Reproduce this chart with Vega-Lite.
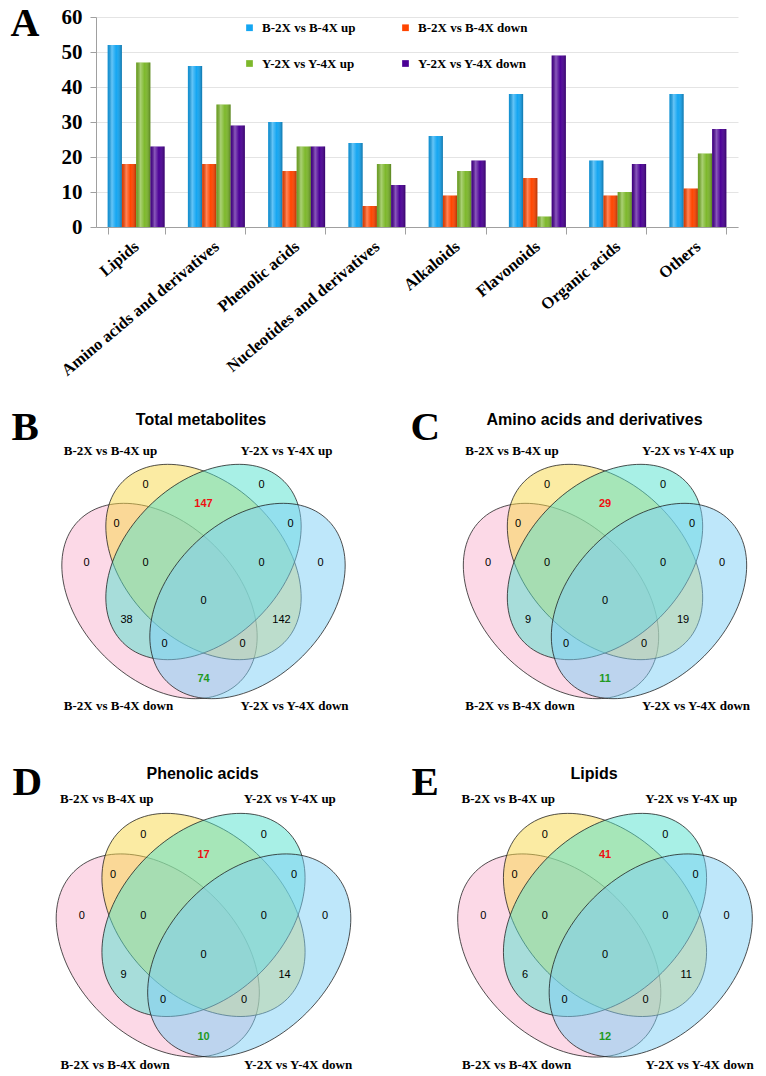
{
  "$schema": "https://vega.github.io/schema/vega-lite/v6.json",
  "background": "white",
  "padding": {"left": 10, "top": 3, "right": 5, "bottom": 0},
  "autosize": {"type": "pad"},
  "bounds": "flush",
  "spacing": 279.25,
  "config": {"view": {"stroke": null}},
  "datasets": {
    "bars": [
      {"category": "Lipids", "series": "B-2X vs B-4X up", "value": 52},
      {"category": "Lipids", "series": "B-2X vs B-4X down", "value": 18},
      {"category": "Lipids", "series": "Y-2X vs Y-4X up", "value": 47},
      {"category": "Lipids", "series": "Y-2X vs Y-4X down", "value": 23},
      {"category": "Amino acids and derivatives", "series": "B-2X vs B-4X up", "value": 46},
      {"category": "Amino acids and derivatives", "series": "B-2X vs B-4X down", "value": 18},
      {"category": "Amino acids and derivatives", "series": "Y-2X vs Y-4X up", "value": 35},
      {"category": "Amino acids and derivatives", "series": "Y-2X vs Y-4X down", "value": 29},
      {"category": "Phenolic acids", "series": "B-2X vs B-4X up", "value": 30},
      {"category": "Phenolic acids", "series": "B-2X vs B-4X down", "value": 16},
      {"category": "Phenolic acids", "series": "Y-2X vs Y-4X up", "value": 23},
      {"category": "Phenolic acids", "series": "Y-2X vs Y-4X down", "value": 23},
      {"category": "Nucleotides and derivatives", "series": "B-2X vs B-4X up", "value": 24},
      {"category": "Nucleotides and derivatives", "series": "B-2X vs B-4X down", "value": 6},
      {"category": "Nucleotides and derivatives", "series": "Y-2X vs Y-4X up", "value": 18},
      {"category": "Nucleotides and derivatives", "series": "Y-2X vs Y-4X down", "value": 12},
      {"category": "Alkaloids", "series": "B-2X vs B-4X up", "value": 26},
      {"category": "Alkaloids", "series": "B-2X vs B-4X down", "value": 9},
      {"category": "Alkaloids", "series": "Y-2X vs Y-4X up", "value": 16},
      {"category": "Alkaloids", "series": "Y-2X vs Y-4X down", "value": 19},
      {"category": "Flavonoids", "series": "B-2X vs B-4X up", "value": 38},
      {"category": "Flavonoids", "series": "B-2X vs B-4X down", "value": 14},
      {"category": "Flavonoids", "series": "Y-2X vs Y-4X up", "value": 3},
      {"category": "Flavonoids", "series": "Y-2X vs Y-4X down", "value": 49},
      {"category": "Organic acids", "series": "B-2X vs B-4X up", "value": 19},
      {"category": "Organic acids", "series": "B-2X vs B-4X down", "value": 9},
      {"category": "Organic acids", "series": "Y-2X vs Y-4X up", "value": 10},
      {"category": "Organic acids", "series": "Y-2X vs Y-4X down", "value": 18},
      {"category": "Others", "series": "B-2X vs B-4X up", "value": 38},
      {"category": "Others", "series": "B-2X vs B-4X down", "value": 11},
      {"category": "Others", "series": "Y-2X vs Y-4X up", "value": 21},
      {"category": "Others", "series": "Y-2X vs Y-4X down", "value": 28}
    ],
    "ellipses": [
      {"set": "B-2X vs B-4X down", "vx": -0.44, "vy": 0},
      {"set": "B-2X vs B-4X up", "vx": 0, "vy": 0.39},
      {"set": "Y-2X vs Y-4X up", "vx": 0, "vy": 0.39},
      {"set": "Y-2X vs Y-4X down", "vx": 0.44, "vy": 0}
    ],
    "setlabels": [
      {"label": "B-2X vs B-4X up", "vx": -0.93, "vy": 1.5},
      {"label": "Y-2X vs Y-4X up", "vx": 0.83, "vy": 1.5},
      {"label": "B-2X vs B-4X down", "vx": -0.85, "vy": -1.05},
      {"label": "Y-2X vs Y-4X down", "vx": 0.91, "vy": -1.05}
    ],
    "regions": [
      {"region": "BU", "vx": -0.58, "vy": 1.16},
      {"region": "YU", "vx": 0.58, "vy": 1.16},
      {"region": "BU_YU", "vx": 0, "vy": 0.97},
      {"region": "BU_BD", "vx": -0.87, "vy": 0.77},
      {"region": "YU_YD", "vx": 0.87, "vy": 0.77},
      {"region": "BD", "vx": -1.17, "vy": 0.38},
      {"region": "BU_YU_BD", "vx": -0.58, "vy": 0.38},
      {"region": "BU_YU_YD", "vx": 0.58, "vy": 0.38},
      {"region": "YD", "vx": 1.17, "vy": 0.38},
      {"region": "BU_YU_BD_YD", "vx": 0, "vy": 0},
      {"region": "YU_BD", "vx": -0.77, "vy": -0.19},
      {"region": "BU_YD", "vx": 0.78, "vy": -0.19},
      {"region": "YU_BD_YD", "vx": -0.39, "vy": -0.43},
      {"region": "BU_BD_YD", "vx": 0.39, "vy": -0.43},
      {"region": "BD_YD", "vx": 0, "vy": -0.78}
    ],
    "counts": [
      {"panel": "Total metabolites", "region": "BU", "count": 0},
      {"panel": "Total metabolites", "region": "YU", "count": 0},
      {"panel": "Total metabolites", "region": "BU_YU", "count": 147},
      {"panel": "Total metabolites", "region": "BU_BD", "count": 0},
      {"panel": "Total metabolites", "region": "YU_YD", "count": 0},
      {"panel": "Total metabolites", "region": "BD", "count": 0},
      {"panel": "Total metabolites", "region": "BU_YU_BD", "count": 0},
      {"panel": "Total metabolites", "region": "BU_YU_YD", "count": 0},
      {"panel": "Total metabolites", "region": "YD", "count": 0},
      {"panel": "Total metabolites", "region": "BU_YU_BD_YD", "count": 0},
      {"panel": "Total metabolites", "region": "YU_BD", "count": 38},
      {"panel": "Total metabolites", "region": "BU_YD", "count": 142},
      {"panel": "Total metabolites", "region": "YU_BD_YD", "count": 0},
      {"panel": "Total metabolites", "region": "BU_BD_YD", "count": 0},
      {"panel": "Total metabolites", "region": "BD_YD", "count": 74},
      {"panel": "Amino acids and derivatives", "region": "BU", "count": 0},
      {"panel": "Amino acids and derivatives", "region": "YU", "count": 0},
      {"panel": "Amino acids and derivatives", "region": "BU_YU", "count": 29},
      {"panel": "Amino acids and derivatives", "region": "BU_BD", "count": 0},
      {"panel": "Amino acids and derivatives", "region": "YU_YD", "count": 0},
      {"panel": "Amino acids and derivatives", "region": "BD", "count": 0},
      {"panel": "Amino acids and derivatives", "region": "BU_YU_BD", "count": 0},
      {"panel": "Amino acids and derivatives", "region": "BU_YU_YD", "count": 0},
      {"panel": "Amino acids and derivatives", "region": "YD", "count": 0},
      {"panel": "Amino acids and derivatives", "region": "BU_YU_BD_YD", "count": 0},
      {"panel": "Amino acids and derivatives", "region": "YU_BD", "count": 9},
      {"panel": "Amino acids and derivatives", "region": "BU_YD", "count": 19},
      {"panel": "Amino acids and derivatives", "region": "YU_BD_YD", "count": 0},
      {"panel": "Amino acids and derivatives", "region": "BU_BD_YD", "count": 0},
      {"panel": "Amino acids and derivatives", "region": "BD_YD", "count": 11},
      {"panel": "Phenolic acids", "region": "BU", "count": 0},
      {"panel": "Phenolic acids", "region": "YU", "count": 0},
      {"panel": "Phenolic acids", "region": "BU_YU", "count": 17},
      {"panel": "Phenolic acids", "region": "BU_BD", "count": 0},
      {"panel": "Phenolic acids", "region": "YU_YD", "count": 0},
      {"panel": "Phenolic acids", "region": "BD", "count": 0},
      {"panel": "Phenolic acids", "region": "BU_YU_BD", "count": 0},
      {"panel": "Phenolic acids", "region": "BU_YU_YD", "count": 0},
      {"panel": "Phenolic acids", "region": "YD", "count": 0},
      {"panel": "Phenolic acids", "region": "BU_YU_BD_YD", "count": 0},
      {"panel": "Phenolic acids", "region": "YU_BD", "count": 9},
      {"panel": "Phenolic acids", "region": "BU_YD", "count": 14},
      {"panel": "Phenolic acids", "region": "YU_BD_YD", "count": 0},
      {"panel": "Phenolic acids", "region": "BU_BD_YD", "count": 0},
      {"panel": "Phenolic acids", "region": "BD_YD", "count": 10},
      {"panel": "Lipids", "region": "BU", "count": 0},
      {"panel": "Lipids", "region": "YU", "count": 0},
      {"panel": "Lipids", "region": "BU_YU", "count": 41},
      {"panel": "Lipids", "region": "BU_BD", "count": 0},
      {"panel": "Lipids", "region": "YU_YD", "count": 0},
      {"panel": "Lipids", "region": "BD", "count": 0},
      {"panel": "Lipids", "region": "BU_YU_BD", "count": 0},
      {"panel": "Lipids", "region": "BU_YU_YD", "count": 0},
      {"panel": "Lipids", "region": "YD", "count": 0},
      {"panel": "Lipids", "region": "BU_YU_BD_YD", "count": 0},
      {"panel": "Lipids", "region": "YU_BD", "count": 6},
      {"panel": "Lipids", "region": "BU_YD", "count": 11},
      {"panel": "Lipids", "region": "YU_BD_YD", "count": 0},
      {"panel": "Lipids", "region": "BU_BD_YD", "count": 0},
      {"panel": "Lipids", "region": "BD_YD", "count": 12}
    ]
  },
  "vconcat": [
    {
      "width": 642,
      "height": 210,
      "data": {"name": "bars"},
      "encoding": {
        "x": {
          "field": "category", "type": "nominal",
          "sort": ["Lipids", "Amino acids and derivatives", "Phenolic acids", "Nucleotides and derivatives", "Alkaloids", "Flavonoids", "Organic acids", "Others"],
          "scale": {"paddingInner": 0.29, "paddingOuter": 0.145},
          "axis": {"title": null, "labelAngle": -40, "labelAlign": "right", "labelBaseline": "middle", "labelFont": "Liberation Serif", "labelFontWeight": "bold", "labelFontSize": 16.5, "labelColor": "black", "labelLimit": 400, "labelPadding": 10, "tickBand": "extent", "tickSize": 7, "tickColor": "#a0a0a0", "domainColor": "#a0a0a0"}
        },
        "xOffset": {
          "field": "series", "type": "nominal",
          "sort": ["B-2X vs B-4X up", "B-2X vs B-4X down", "Y-2X vs Y-4X up", "Y-2X vs Y-4X down"],
          "scale": {"paddingInner": 0, "paddingOuter": 0}
        },
        "y": {
          "field": "value", "type": "quantitative",
          "scale": {"domain": [0, 60], "nice": false},
          "axis": {"values": [0, 10, 20, 30, 40, 50, 60], "format": "d", "title": "A", "titleAngle": 0, "titleAlign": "left", "titleBaseline": "alphabetic", "titleX": -86, "titleY": 18.6, "titleFont": "Liberation Serif", "titleFontSize": 40, "titleFontWeight": "bold", "titleColor": "black", "labelFont": "Liberation Serif", "labelFontWeight": "bold", "labelFontSize": 21, "labelColor": "black", "labelPadding": 8, "tickSize": 6, "tickColor": "#a0a0a0", "domainColor": "#a0a0a0", "grid": true, "gridColor": "#e4e4e4"}
        }
      },
      "layer": [
        {
          "mark": {"type": "bar"},
          "encoding": {
            "color": {
              "field": "series", "type": "nominal",
              "scale": {"domain": ["B-2X vs B-4X up", "Y-2X vs Y-4X up", "B-2X vs B-4X down", "Y-2X vs Y-4X down"], "range": ["#14A6F2", "#7DB82B", "#FF4500", "#4B0096"]},
              "legend": {"title": null, "orient": "none", "legendX": 147, "legendY": 4, "columns": 2, "symbolType": "square", "symbolSize": 45, "symbolStrokeWidth": 0, "labelFont": "Liberation Serif", "labelFontWeight": "bold", "labelFontSize": 13, "labelColor": "black", "labelOffset": 6, "columnPadding": 43, "rowPadding": 22}
            }
          }
        },
        {
          "mark": {
            "type": "bar",
            "fill": {"gradient": "linear", "x1": 0, "y1": 0, "x2": 1, "y2": 0, "stops": [
              {"offset": 0, "color": "rgba(0,0,0,0.12)"},
              {"offset": 0.3, "color": "rgba(255,255,255,0.35)"},
              {"offset": 0.6, "color": "rgba(255,255,255,0)"},
              {"offset": 1, "color": "rgba(0,0,0,0.3)"}
            ]}
          }
        }
      ]
    },
    {
      "bounds": "flush",
      "spacing": 186.5,
      "hconcat": [
        {
          "width": 215, "height": 285,
          "encoding": {
            "x": {"field": "vx", "type": "quantitative", "scale": {"domain": [-1.075, 1.075], "nice": false, "zero": false}, "axis": {"orient": "top", "title": "Total metabolites", "titleX": 104.5, "titleY": -82.25, "titleAlign": "center", "titleBaseline": "alphabetic", "titleAngle": 0, "titleFont": "Liberation Sans", "titleFontSize": 16, "titleFontWeight": "bold", "titleColor": "black", "domain": false, "ticks": false, "labels": false, "grid": false}},
            "y": {"field": "vy", "type": "quantitative", "scale": {"domain": [-1.9025, 0.9475], "nice": false, "zero": false}, "axis": {"title": "B", "titleAngle": 0, "titleAlign": "left", "titleBaseline": "alphabetic", "titleX": -85, "titleY": -67.25, "titleFont": "Liberation Serif", "titleFontSize": 41, "titleFontWeight": "bold", "titleColor": "black", "domain": false, "ticks": false, "labels": false, "grid": false}}
          },
          "layer": [
            {
              "data": {"name": "ellipses"},
              "mark": {"type": "point", "filled": true, "size": 51984, "opacity": 1, "fillOpacity": 0.5, "stroke": "#1a1a1a", "strokeWidth": 0.9, "strokeOpacity": 0.85},
              "encoding": {
                "shape": {"field": "set", "type": "nominal", "legend": null, "scale": {"domain": ["B-2X vs B-4X down", "B-2X vs B-4X up", "Y-2X vs Y-4X up", "Y-2X vs Y-4X down"], "range": [
                  "M 0.7071 0.7071 A 1 0.684 45 0 1 -0.4837 0.4837 A 1 0.684 45 0 1 -0.7071 -0.7071 A 1 0.684 45 0 1 0.4837 -0.4837 A 1 0.684 45 0 1 0.7071 0.7071 Z",
                  "M 0.7071 0.7071 A 1 0.684 45 0 1 -0.4837 0.4837 A 1 0.684 45 0 1 -0.7071 -0.7071 A 1 0.684 45 0 1 0.4837 -0.4837 A 1 0.684 45 0 1 0.7071 0.7071 Z",
                  "M 0.7071 -0.7071 A 1 0.684 -45 0 1 0.4837 0.4837 A 1 0.684 -45 0 1 -0.7071 0.7071 A 1 0.684 -45 0 1 -0.4837 -0.4837 A 1 0.684 -45 0 1 0.7071 -0.7071 Z",
                  "M 0.7071 -0.7071 A 1 0.684 -45 0 1 0.4837 0.4837 A 1 0.684 -45 0 1 -0.7071 0.7071 A 1 0.684 -45 0 1 -0.4837 -0.4837 A 1 0.684 -45 0 1 0.7071 -0.7071 Z"
                ]}},
                "fill": {"field": "set", "type": "nominal", "legend": null, "scale": {"domain": ["B-2X vs B-4X down", "B-2X vs B-4X up", "Y-2X vs Y-4X up", "Y-2X vs Y-4X down"], "range": ["#F9B3CF", "#F7D747", "#51E1CD", "#7DCFF5"]}}
              }
            },
            {
              "data": {"name": "setlabels"},
              "mark": {"type": "text", "font": "Liberation Serif", "fontSize": 13, "fontWeight": "bold", "color": "black", "align": "center", "baseline": "middle"},
              "encoding": {"text": {"field": "label", "type": "nominal"}}
            },
            {
              "data": {"name": "counts"},
              "transform": [
                {"filter": "datum.panel === 'Total metabolites' && datum.region !== 'BU_YU' && datum.region !== 'BD_YD'"},
                {"lookup": "region", "from": {"data": {"name": "regions"}, "key": "region", "fields": ["vx", "vy"]}}
              ],
              "mark": {"type": "text", "font": "Liberation Sans", "fontSize": 11, "color": "black", "align": "center", "baseline": "middle"},
              "encoding": {"text": {"field": "count", "type": "quantitative", "format": "d"}}
            },
            {
              "data": {"name": "counts"},
              "transform": [
                {"filter": "datum.panel === 'Total metabolites' && (datum.region === 'BU_YU' || datum.region === 'BD_YD')"},
                {"lookup": "region", "from": {"data": {"name": "regions"}, "key": "region", "fields": ["vx", "vy"]}}
              ],
              "mark": {"type": "text", "font": "Liberation Sans", "fontSize": 11, "fontWeight": "bold", "align": "center", "baseline": "middle"},
              "encoding": {
                "text": {"field": "count", "type": "quantitative", "format": "d"},
                "color": {"condition": {"test": "datum.region === 'BU_YU'", "value": "#EE1111"}, "value": "#1F9A1F"}
              }
            }
          ]
        },
        {
          "width": 215, "height": 285,
          "encoding": {
            "x": {"field": "vx", "type": "quantitative", "scale": {"domain": [-1.075, 1.075], "nice": false, "zero": false}, "axis": {"orient": "top", "title": "Amino acids and derivatives", "titleX": 96.5, "titleY": -82.25, "titleAlign": "center", "titleBaseline": "alphabetic", "titleAngle": 0, "titleFont": "Liberation Sans", "titleFontSize": 16, "titleFontWeight": "bold", "titleColor": "black", "domain": false, "ticks": false, "labels": false, "grid": false}},
            "y": {"field": "vy", "type": "quantitative", "scale": {"domain": [-1.9025, 0.9475], "nice": false, "zero": false}, "axis": {"title": "C", "titleAngle": 0, "titleAlign": "left", "titleBaseline": "alphabetic", "titleX": -87.5, "titleY": -67.25, "titleFont": "Liberation Serif", "titleFontSize": 41, "titleFontWeight": "bold", "titleColor": "black", "domain": false, "ticks": false, "labels": false, "grid": false}}
          },
          "layer": [
            {
              "data": {"name": "ellipses"},
              "mark": {"type": "point", "filled": true, "size": 51984, "opacity": 1, "fillOpacity": 0.5, "stroke": "#1a1a1a", "strokeWidth": 0.9, "strokeOpacity": 0.85},
              "encoding": {
                "shape": {"field": "set", "type": "nominal", "legend": null, "scale": {"domain": ["B-2X vs B-4X down", "B-2X vs B-4X up", "Y-2X vs Y-4X up", "Y-2X vs Y-4X down"], "range": [
                  "M 0.7071 0.7071 A 1 0.684 45 0 1 -0.4837 0.4837 A 1 0.684 45 0 1 -0.7071 -0.7071 A 1 0.684 45 0 1 0.4837 -0.4837 A 1 0.684 45 0 1 0.7071 0.7071 Z",
                  "M 0.7071 0.7071 A 1 0.684 45 0 1 -0.4837 0.4837 A 1 0.684 45 0 1 -0.7071 -0.7071 A 1 0.684 45 0 1 0.4837 -0.4837 A 1 0.684 45 0 1 0.7071 0.7071 Z",
                  "M 0.7071 -0.7071 A 1 0.684 -45 0 1 0.4837 0.4837 A 1 0.684 -45 0 1 -0.7071 0.7071 A 1 0.684 -45 0 1 -0.4837 -0.4837 A 1 0.684 -45 0 1 0.7071 -0.7071 Z",
                  "M 0.7071 -0.7071 A 1 0.684 -45 0 1 0.4837 0.4837 A 1 0.684 -45 0 1 -0.7071 0.7071 A 1 0.684 -45 0 1 -0.4837 -0.4837 A 1 0.684 -45 0 1 0.7071 -0.7071 Z"
                ]}},
                "fill": {"field": "set", "type": "nominal", "legend": null, "scale": {"domain": ["B-2X vs B-4X down", "B-2X vs B-4X up", "Y-2X vs Y-4X up", "Y-2X vs Y-4X down"], "range": ["#F9B3CF", "#F7D747", "#51E1CD", "#7DCFF5"]}}
              }
            },
            {
              "data": {"name": "setlabels"},
              "mark": {"type": "text", "font": "Liberation Serif", "fontSize": 13, "fontWeight": "bold", "color": "black", "align": "center", "baseline": "middle"},
              "encoding": {"text": {"field": "label", "type": "nominal"}}
            },
            {
              "data": {"name": "counts"},
              "transform": [
                {"filter": "datum.panel === 'Amino acids and derivatives' && datum.region !== 'BU_YU' && datum.region !== 'BD_YD'"},
                {"lookup": "region", "from": {"data": {"name": "regions"}, "key": "region", "fields": ["vx", "vy"]}}
              ],
              "mark": {"type": "text", "font": "Liberation Sans", "fontSize": 11, "color": "black", "align": "center", "baseline": "middle"},
              "encoding": {"text": {"field": "count", "type": "quantitative", "format": "d"}}
            },
            {
              "data": {"name": "counts"},
              "transform": [
                {"filter": "datum.panel === 'Amino acids and derivatives' && (datum.region === 'BU_YU' || datum.region === 'BD_YD')"},
                {"lookup": "region", "from": {"data": {"name": "regions"}, "key": "region", "fields": ["vx", "vy"]}}
              ],
              "mark": {"type": "text", "font": "Liberation Sans", "fontSize": 11, "fontWeight": "bold", "align": "center", "baseline": "middle"},
              "encoding": {
                "text": {"field": "count", "type": "quantitative", "format": "d"},
                "color": {"condition": {"test": "datum.region === 'BU_YU'", "value": "#EE1111"}, "value": "#1F9A1F"}
              }
            }
          ]
        }
      ]
    },
    {
      "bounds": "flush",
      "spacing": 186.5,
      "hconcat": [
        {
          "width": 215, "height": 285,
          "encoding": {
            "x": {"field": "vx", "type": "quantitative", "scale": {"domain": [-1.034, 1.034], "nice": false, "zero": false}, "axis": {"orient": "top", "title": "Phenolic acids", "titleX": 106, "titleY": -7.5, "titleAlign": "center", "titleBaseline": "alphabetic", "titleAngle": 0, "titleFont": "Liberation Sans", "titleFontSize": 16, "titleFontWeight": "bold", "titleColor": "black", "domain": false, "ticks": false, "labels": false, "grid": false}},
            "y": {"field": "vy", "type": "quantitative", "scale": {"domain": [-1.1058, 1.6346], "nice": false, "zero": false}, "axis": {"title": "D", "titleAngle": 0, "titleAlign": "left", "titleBaseline": "alphabetic", "titleX": -84, "titleY": 8.5, "titleFont": "Liberation Serif", "titleFontSize": 41, "titleFontWeight": "bold", "titleColor": "black", "domain": false, "ticks": false, "labels": false, "grid": false}}
          },
          "layer": [
            {
              "data": {"name": "ellipses"},
              "mark": {"type": "point", "filled": true, "size": 56220, "opacity": 1, "fillOpacity": 0.5, "stroke": "#1a1a1a", "strokeWidth": 0.9, "strokeOpacity": 0.85},
              "encoding": {
                "shape": {"field": "set", "type": "nominal", "legend": null, "scale": {"domain": ["B-2X vs B-4X down", "B-2X vs B-4X up", "Y-2X vs Y-4X up", "Y-2X vs Y-4X down"], "range": [
                  "M 0.7071 0.7071 A 1 0.684 45 0 1 -0.4837 0.4837 A 1 0.684 45 0 1 -0.7071 -0.7071 A 1 0.684 45 0 1 0.4837 -0.4837 A 1 0.684 45 0 1 0.7071 0.7071 Z",
                  "M 0.7071 0.7071 A 1 0.684 45 0 1 -0.4837 0.4837 A 1 0.684 45 0 1 -0.7071 -0.7071 A 1 0.684 45 0 1 0.4837 -0.4837 A 1 0.684 45 0 1 0.7071 0.7071 Z",
                  "M 0.7071 -0.7071 A 1 0.684 -45 0 1 0.4837 0.4837 A 1 0.684 -45 0 1 -0.7071 0.7071 A 1 0.684 -45 0 1 -0.4837 -0.4837 A 1 0.684 -45 0 1 0.7071 -0.7071 Z",
                  "M 0.7071 -0.7071 A 1 0.684 -45 0 1 0.4837 0.4837 A 1 0.684 -45 0 1 -0.7071 0.7071 A 1 0.684 -45 0 1 -0.4837 -0.4837 A 1 0.684 -45 0 1 0.7071 -0.7071 Z"
                ]}},
                "fill": {"field": "set", "type": "nominal", "legend": null, "scale": {"domain": ["B-2X vs B-4X down", "B-2X vs B-4X up", "Y-2X vs Y-4X up", "Y-2X vs Y-4X down"], "range": ["#F9B3CF", "#F7D747", "#51E1CD", "#7DCFF5"]}}
              }
            },
            {
              "data": {"name": "setlabels"},
              "mark": {"type": "text", "font": "Liberation Serif", "fontSize": 13, "fontWeight": "bold", "color": "black", "align": "center", "baseline": "middle"},
              "encoding": {"text": {"field": "label", "type": "nominal"}}
            },
            {
              "data": {"name": "counts"},
              "transform": [
                {"filter": "datum.panel === 'Phenolic acids' && datum.region !== 'BU_YU' && datum.region !== 'BD_YD'"},
                {"lookup": "region", "from": {"data": {"name": "regions"}, "key": "region", "fields": ["vx", "vy"]}}
              ],
              "mark": {"type": "text", "font": "Liberation Sans", "fontSize": 11, "color": "black", "align": "center", "baseline": "middle"},
              "encoding": {"text": {"field": "count", "type": "quantitative", "format": "d"}}
            },
            {
              "data": {"name": "counts"},
              "transform": [
                {"filter": "datum.panel === 'Phenolic acids' && (datum.region === 'BU_YU' || datum.region === 'BD_YD')"},
                {"lookup": "region", "from": {"data": {"name": "regions"}, "key": "region", "fields": ["vx", "vy"]}}
              ],
              "mark": {"type": "text", "font": "Liberation Sans", "fontSize": 11, "fontWeight": "bold", "align": "center", "baseline": "middle"},
              "encoding": {
                "text": {"field": "count", "type": "quantitative", "format": "d"},
                "color": {"condition": {"test": "datum.region === 'BU_YU'", "value": "#EE1111"}, "value": "#1F9A1F"}
              }
            }
          ]
        },
        {
          "width": 215, "height": 285,
          "encoding": {
            "x": {"field": "vx", "type": "quantitative", "scale": {"domain": [-1.034, 1.034], "nice": false, "zero": false}, "axis": {"orient": "top", "title": "Lipids", "titleX": 96, "titleY": -7.5, "titleAlign": "center", "titleBaseline": "alphabetic", "titleAngle": 0, "titleFont": "Liberation Sans", "titleFontSize": 16, "titleFontWeight": "bold", "titleColor": "black", "domain": false, "ticks": false, "labels": false, "grid": false}},
            "y": {"field": "vy", "type": "quantitative", "scale": {"domain": [-1.1058, 1.6346], "nice": false, "zero": false}, "axis": {"title": "E", "titleAngle": 0, "titleAlign": "left", "titleBaseline": "alphabetic", "titleX": -86.5, "titleY": 8.5, "titleFont": "Liberation Serif", "titleFontSize": 41, "titleFontWeight": "bold", "titleColor": "black", "domain": false, "ticks": false, "labels": false, "grid": false}}
          },
          "layer": [
            {
              "data": {"name": "ellipses"},
              "mark": {"type": "point", "filled": true, "size": 56220, "opacity": 1, "fillOpacity": 0.5, "stroke": "#1a1a1a", "strokeWidth": 0.9, "strokeOpacity": 0.85},
              "encoding": {
                "shape": {"field": "set", "type": "nominal", "legend": null, "scale": {"domain": ["B-2X vs B-4X down", "B-2X vs B-4X up", "Y-2X vs Y-4X up", "Y-2X vs Y-4X down"], "range": [
                  "M 0.7071 0.7071 A 1 0.684 45 0 1 -0.4837 0.4837 A 1 0.684 45 0 1 -0.7071 -0.7071 A 1 0.684 45 0 1 0.4837 -0.4837 A 1 0.684 45 0 1 0.7071 0.7071 Z",
                  "M 0.7071 0.7071 A 1 0.684 45 0 1 -0.4837 0.4837 A 1 0.684 45 0 1 -0.7071 -0.7071 A 1 0.684 45 0 1 0.4837 -0.4837 A 1 0.684 45 0 1 0.7071 0.7071 Z",
                  "M 0.7071 -0.7071 A 1 0.684 -45 0 1 0.4837 0.4837 A 1 0.684 -45 0 1 -0.7071 0.7071 A 1 0.684 -45 0 1 -0.4837 -0.4837 A 1 0.684 -45 0 1 0.7071 -0.7071 Z",
                  "M 0.7071 -0.7071 A 1 0.684 -45 0 1 0.4837 0.4837 A 1 0.684 -45 0 1 -0.7071 0.7071 A 1 0.684 -45 0 1 -0.4837 -0.4837 A 1 0.684 -45 0 1 0.7071 -0.7071 Z"
                ]}},
                "fill": {"field": "set", "type": "nominal", "legend": null, "scale": {"domain": ["B-2X vs B-4X down", "B-2X vs B-4X up", "Y-2X vs Y-4X up", "Y-2X vs Y-4X down"], "range": ["#F9B3CF", "#F7D747", "#51E1CD", "#7DCFF5"]}}
              }
            },
            {
              "data": {"name": "setlabels"},
              "mark": {"type": "text", "font": "Liberation Serif", "fontSize": 13, "fontWeight": "bold", "color": "black", "align": "center", "baseline": "middle"},
              "encoding": {"text": {"field": "label", "type": "nominal"}}
            },
            {
              "data": {"name": "counts"},
              "transform": [
                {"filter": "datum.panel === 'Lipids' && datum.region !== 'BU_YU' && datum.region !== 'BD_YD'"},
                {"lookup": "region", "from": {"data": {"name": "regions"}, "key": "region", "fields": ["vx", "vy"]}}
              ],
              "mark": {"type": "text", "font": "Liberation Sans", "fontSize": 11, "color": "black", "align": "center", "baseline": "middle"},
              "encoding": {"text": {"field": "count", "type": "quantitative", "format": "d"}}
            },
            {
              "data": {"name": "counts"},
              "transform": [
                {"filter": "datum.panel === 'Lipids' && (datum.region === 'BU_YU' || datum.region === 'BD_YD')"},
                {"lookup": "region", "from": {"data": {"name": "regions"}, "key": "region", "fields": ["vx", "vy"]}}
              ],
              "mark": {"type": "text", "font": "Liberation Sans", "fontSize": 11, "fontWeight": "bold", "align": "center", "baseline": "middle"},
              "encoding": {
                "text": {"field": "count", "type": "quantitative", "format": "d"},
                "color": {"condition": {"test": "datum.region === 'BU_YU'", "value": "#EE1111"}, "value": "#1F9A1F"}
              }
            }
          ]
        }
      ]
    }
  ]
}
